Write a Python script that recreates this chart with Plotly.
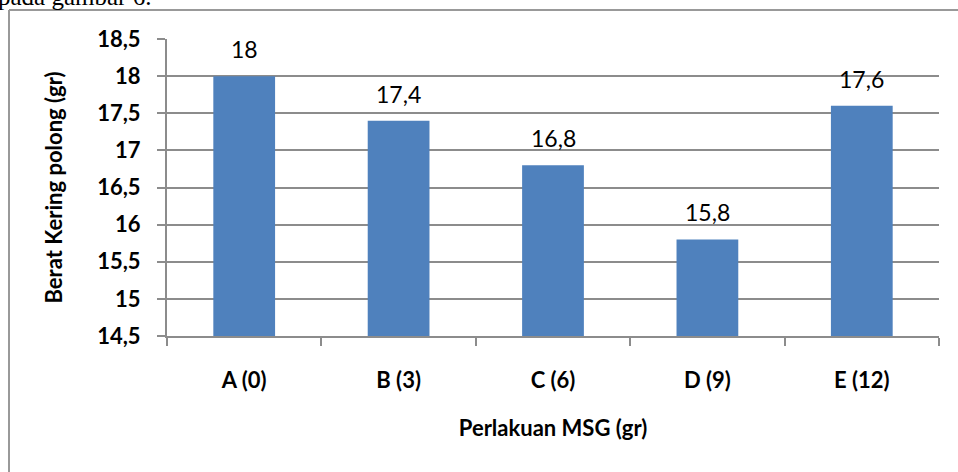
import plotly.graph_objects as go

categories = ["A (0)", "B (3)", "C (6)", "D (9)", "E (12)"]
values = [18, 17.4, 16.8, 15.8, 17.6]
y_range = [14.5, 18.5]
y_title = "Berat Kering polong (gr)"
x_title = "Perlakuan MSG (gr)"
caption = "pada gambar 6."

labels = [str(v).replace(".", ",") for v in values]

W, H = 958, 472
L, R, T, B = 167, 19, 39, 136
pw, ph = W - L - R, H - T - B

def px(x):
    return (x - L) / pw

def py(y):
    return (H - B - y) / ph

FONT = "Lato"
fig = go.Figure()
fig.add_trace(go.Bar(
    x=categories, y=values, width=0.4,
    marker=dict(color="#4F81BD", line=dict(width=0)),
    hoverinfo="skip",
))
for c, v, t in zip(categories, values, labels):
    fig.add_annotation(x=c, y=v, text=t, showarrow=False, yanchor="bottom",
                       yshift=11, font=dict(family=FONT, size=23, color="#000"))

gray = "#8C8C8C"
fig.update_layout(
    width=W, height=H,
    margin=dict(l=L, r=R, t=T, b=B),
    paper_bgcolor="white", plot_bgcolor="white",
    separators=", ",
    showlegend=False,
    bargap=0.6,
    xaxis=dict(
        showline=True, linecolor=gray, linewidth=2,
        ticks="outside", tickson="boundaries", ticklen=8, tickcolor=gray, tickwidth=2,
        tickfont=dict(family=FONT, size=22, color="#000", weight="bold"),
        ticklabelstandoff=24,
        title=dict(text=x_title, font=dict(family=FONT, size=22, color="#000", weight="bold"), standoff=28),
        showgrid=False,
    ),
    yaxis=dict(
        range=y_range, dtick=0.5, tick0=14.5,
        showline=True, linecolor=gray, linewidth=2,
        ticks="outside", ticklen=8, tickcolor=gray, tickwidth=2,
        showgrid=True, gridcolor=gray, gridwidth=2,
        tickfont=dict(family=FONT, size=22, color="#000", weight="bold"),
        ticklabelstandoff=12,
        title=dict(text=y_title, font=dict(family=FONT, size=22, color="#000", weight="bold"), standoff=28),
        zeroline=False,
    ),
    shapes=[
        dict(type="line", xref="paper", yref="paper", x0=px(9), x1=px(9), y0=py(10), y1=py(472),
             line=dict(color="#999999", width=2)),
        dict(type="line", xref="paper", yref="paper", x0=px(9), x1=px(958), y0=py(10), y1=py(10),
             line=dict(color="#999999", width=2)),
    ],
)
fig.add_annotation(xref="paper", yref="paper", x=px(-4), y=py(12), xanchor="left", yanchor="bottom",
                   text=caption, showarrow=False,
                   font=dict(family="Liberation Serif", size=25, color="#000"))

fig.write_html("out.html", config={"displayModeBar": False},
               post_script="document.body.style.margin='0';document.body.style.overflow='hidden';")
